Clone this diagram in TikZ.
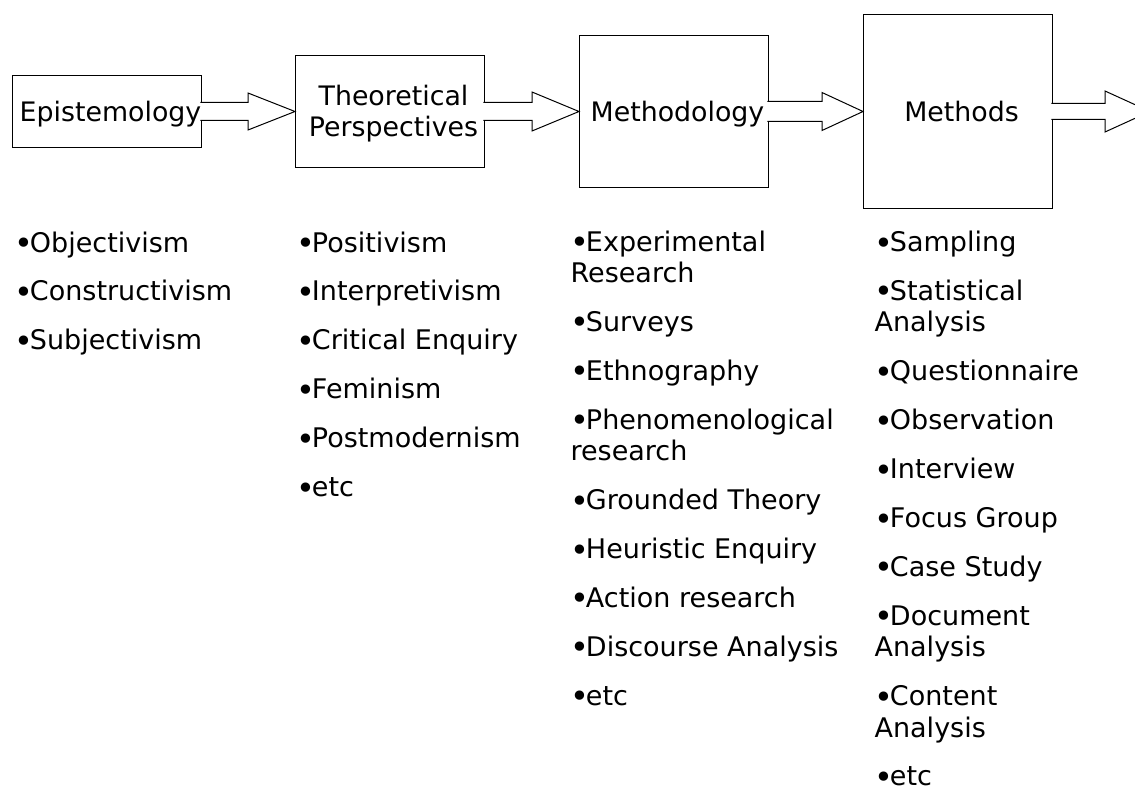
\documentclass[tikz,border=0pt]{standalone}
\usepackage{fontspec}
\setmainfont{DejaVu Sans}
\usetikzlibrary{calc}

\tikzset{
  frame/.style={draw=black, line width=1pt, fill=white, inner sep=0pt,
                outer sep=0pt, minimum width=189pt},
  boxlabel/.style={anchor=base, inner sep=0pt, font=\fontsize{26.8}{30}\selectfont},
  listtext/.style={anchor=base west, inner sep=0pt, font=\fontsize{27}{31.5}\selectfont},
  blockarrow/.style={draw=black, line width=1pt, fill=white, line join=miter},
}

% list bullet, a little larger than the text
\newcommand\bul{\raisebox{-2.5pt}{\fontsize{32}{32}\selectfont •}\kern-3pt}

% hollow block arrow: #1 start node, #2 tip, #3 head length,
% #4 half shaft height, #5 half head height
\newcommand\flowarrow[5]{%
  \filldraw[blockarrow] let \p1=(#1), \p2=(#2) in
    (\x1-0.6pt,\y2+#4) -- (\x2-#3,\y2+#4) -- (\x2-#3,\y2+#5) -- (\p2)
    -- (\x2-#3,\y2-#5) -- (\x2-#3,\y2-#4) -- (\x1-0.6pt,\y2-#4);}

\begin{document}
\begin{tikzpicture}[x=1pt, y=-1pt]
  \useasboundingbox (0,0) rectangle (1135,789);
  \clip (0,0) rectangle (1135,789);
  \fill[white] (0,0) rectangle (1135,789);

  % the four stages
  \node[frame, minimum height=72pt]  (epi)  at (106.5,111.5) {};
  \node[frame, minimum height=111pt] (theo) at (389.5,111.5) {};
  \node[frame, minimum height=151pt] (mgy)  at (673.5,111.5) {};
  \node[frame, minimum height=193pt] (mth)  at (957.5,111.5) {};
  \coordinate (out) at (1150,111.5);

  % arrows between the stages
  \flowarrow{epi.east}{theo.west}{47pt}{9pt}{18.5pt}
  \flowarrow{theo.east}{mgy.west}{47pt}{9pt}{19.5pt}
  \flowarrow{mgy.east}{mth.west}{41pt}{10pt}{19pt}
  \flowarrow{mth.east}{out}{45pt}{8pt}{20.5pt}

  % stage titles
  \node[boxlabel] (epi-title)   at (110.5,122) {Epistemology};
  \node[boxlabel] (theo-title1) at (393.5,106) {Theoretical};
  \node[boxlabel] (theo-title2) at (393.5,136) {Perspectives};
  \node[boxlabel] (mgy-title)   at (677.5,122) {Methodology};
  \node[boxlabel] (mth-title)   at (961.5,122) {Methods};

  % lists under each stage (x offset / baseline / text)
  \foreach \dx/\y/\txt [count=\i] in {
      -3.1/252/\bul Objectivism,
      -3.1/300.9/\bul Constructivism,
      -3.1/349.8/\bul Subjectivism}
    \node[listtext] (epi-\i) at (17+\dx,\y) {\txt};

  \foreach \dx/\y/\txt [count=\i] in {
      -3.1/252/\bul Positivism,
      -3.1/300.9/\bul Interpretivism,
      -3.1/349.8/\bul Critical Enquiry,
      -3.1/398.7/\bul Feminism,
      -3.1/447.6/\bul Postmodernism,
      -3.1/496.5/\bul etc}
    \node[listtext] (theo-\i) at (299+\dx,\y) {\txt};

  \foreach \dx/\y/\txt [count=\i] in {
      -3.1/251/\bul Experimental,
      -2.6/282.5/Research,
      -3.1/331.4/\bul Surveys,
      -3.1/380.3/\bul Ethnography,
      -3.1/429.2/\bul Phenomenological,
      -2.6/460.7/research,
      -3.1/509.6/\bul Grounded Theory,
      -3.1/558.5/\bul Heuristic Enquiry,
      -3.1/607.4/\bul Action research,
      -3.1/656.3/\bul Discourse Analysis,
      -3.1/705.2/\bul etc}
    \node[listtext] (mgy-\i) at (573+\dx,\y) {\txt};

  \foreach \dx/\y/\txt [count=\i] in {
      -3.1/251.5/\bul Sampling,
      -3.1/300.4/\bul Statistical,
      -2.6/331.9/Analysis,
      -3.1/380.8/\bul Questionnaire,
      -3.1/429.7/\bul Observation,
      -3.1/478.6/\bul Interview,
      -3.1/527.5/\bul Focus Group,
      -3.1/576.4/\bul Case Study,
      -3.1/625.3/\bul Document,
      -2.6/656.8/Analysis,
      -3.1/705.7/\bul Content,
      -2.6/737.2/Analysis,
      -3.1/785.5/\bul etc}
    \node[listtext] (mth-\i) at (877+\dx,\y) {\txt};
\end{tikzpicture}
\end{document}
